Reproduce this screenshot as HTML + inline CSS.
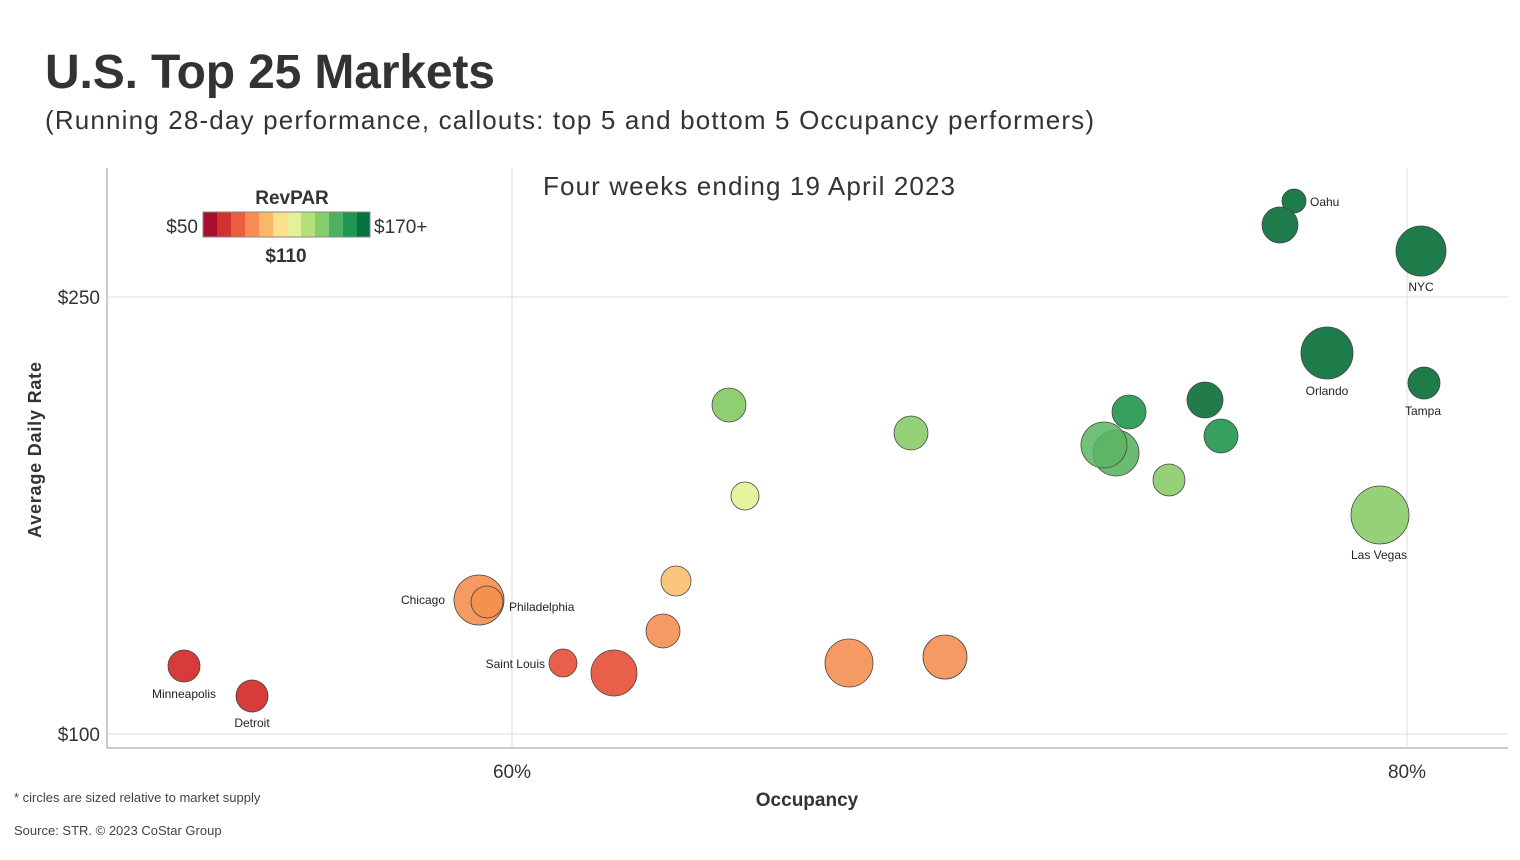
<!DOCTYPE html>
<html><head><meta charset="utf-8"><style>
body{margin:0;background:#fff;font-family:"Liberation Sans","DejaVu Sans",sans-serif}
</style></head><body>
<svg width="1520" height="855" xmlns="http://www.w3.org/2000/svg" font-family="Liberation Sans, DejaVu Sans, sans-serif">
<text x="45" y="88" font-size="48" font-weight="bold" fill="#333" textLength="450">U.S. Top 25 Markets</text>
<text x="45" y="129" font-size="26" fill="#333" textLength="1049">(Running 28-day performance, callouts: top 5 and bottom 5 Occupancy performers)</text>
<line x1="107" y1="168" x2="107" y2="748" stroke="#999"/>
<line x1="107" y1="748" x2="1508" y2="748" stroke="#999"/>
<line x1="107" y1="297" x2="1508" y2="297" stroke="#ddd"/>
<line x1="107" y1="734" x2="1508" y2="734" stroke="#ddd"/>
<line x1="512" y1="168" x2="512" y2="748" stroke="#ddd"/>
<line x1="1407" y1="168" x2="1407" y2="748" stroke="#ddd"/>
<text x="100" y="304" font-size="19" fill="#333" text-anchor="end">$250</text>
<text x="100" y="741" font-size="19" fill="#333" text-anchor="end">$100</text>
<text x="512" y="778" font-size="19" fill="#333" text-anchor="middle">60%</text>
<text x="1407" y="778" font-size="19" fill="#333" text-anchor="middle">80%</text>
<text x="807" y="806" font-size="19" font-weight="bold" fill="#333" text-anchor="middle">Occupancy</text>
<text transform="translate(41,450) rotate(-90)" font-size="18" font-weight="bold" fill="#333" text-anchor="middle" textLength="176">Average Daily Rate</text>
<text x="543" y="195" font-size="26" fill="#333" textLength="412">Four weeks ending 19 April 2023</text>
<text x="14" y="802" font-size="13" fill="#444">* circles are sized relative to market supply</text>
<text x="14" y="835" font-size="13" fill="#444">Source: STR. © 2023 CoStar Group</text>
<text x="292" y="204" font-size="19" font-weight="bold" fill="#333" text-anchor="middle">RevPAR</text>
<text x="198" y="233" font-size="19" fill="#333" text-anchor="end">$50</text>
<text x="374" y="233" font-size="19" fill="#333">$170+</text>
<text x="286" y="262" font-size="19" font-weight="bold" fill="#333" text-anchor="middle">$110</text>
<g>
<rect x="203" y="212" width="14" height="25" fill="#a50f2d"/>
<rect x="217" y="212" width="14" height="25" fill="#d2312f"/>
<rect x="231" y="212" width="14" height="25" fill="#ec5c3f"/>
<rect x="245" y="212" width="14" height="25" fill="#f88c54"/>
<rect x="259" y="212" width="14" height="25" fill="#fdb76a"/>
<rect x="273" y="212" width="14" height="25" fill="#fde08e"/>
<rect x="287" y="212" width="14" height="25" fill="#e2f19a"/>
<rect x="301" y="212" width="14" height="25" fill="#b5e17c"/>
<rect x="315" y="212" width="14" height="25" fill="#86cc6c"/>
<rect x="329" y="212" width="14" height="25" fill="#4fb063"/>
<rect x="343" y="212" width="14" height="25" fill="#1f9752"/>
<rect x="357" y="212" width="13" height="25" fill="#087140"/>
<rect x="203" y="212" width="167" height="25" fill="none" stroke="#888"/>
</g>
<g stroke="#444" stroke-width="0.8">
<circle cx="1294" cy="201" r="12" fill="#1e7b4a"/>
<circle cx="1280" cy="225" r="18" fill="#1e7b4a"/>
<circle cx="1421" cy="251" r="25" fill="#1e7b4a"/>
<circle cx="1327" cy="353" r="26" fill="#1e7b4a"/>
<circle cx="1424" cy="383" r="16" fill="#1e7b4a"/>
<circle cx="1205" cy="400" r="18" fill="#237a4b"/>
<circle cx="1129" cy="412" r="17" fill="#36a15f"/>
<circle cx="1221" cy="436" r="17" fill="#36a15f"/>
<circle cx="1116" cy="453" r="23" fill="#5ab563" fill-opacity="0.9"/>
<circle cx="1104" cy="445" r="23" fill="#5ab563" fill-opacity="0.85"/>
<circle cx="1169" cy="480" r="16" fill="#96d17a"/>
<circle cx="1380" cy="515" r="29" fill="#96d17a"/>
<circle cx="729" cy="405" r="17" fill="#8fcf72"/>
<circle cx="911" cy="433" r="17" fill="#96d17a"/>
<circle cx="745" cy="496" r="14" fill="#e6f4a0"/>
<circle cx="676" cy="581" r="15" fill="#fcc57f"/>
<circle cx="479" cy="600" r="25" fill="#f59a62"/>
<circle cx="487" cy="602" r="16" fill="#f5904f"/>
<circle cx="663" cy="631" r="17" fill="#f59a62"/>
<circle cx="563" cy="663" r="14" fill="#e8604a"/>
<circle cx="614" cy="673" r="23" fill="#e8604a"/>
<circle cx="849" cy="663" r="24" fill="#f59a62"/>
<circle cx="945" cy="657" r="22" fill="#f59a62"/>
<circle cx="184" cy="666" r="16" fill="#d63d3a"/>
<circle cx="252" cy="696" r="16" fill="#d63d3a"/>
</g>
<g font-size="12" fill="#222">
<text x="1310" y="206">Oahu</text>
<text x="1421" y="291" text-anchor="middle">NYC</text>
<text x="1327" y="395" text-anchor="middle">Orlando</text>
<text x="1423" y="415" text-anchor="middle">Tampa</text>
<text x="1379" y="559" text-anchor="middle">Las Vegas</text>
<text x="445" y="604" text-anchor="end">Chicago</text>
<text x="509" y="611">Philadelphia</text>
<text x="545" y="668" text-anchor="end">Saint Louis</text>
<text x="184" y="698" text-anchor="middle">Minneapolis</text>
<text x="252" y="727" text-anchor="middle">Detroit</text>
</g>
</svg>
</body></html>
